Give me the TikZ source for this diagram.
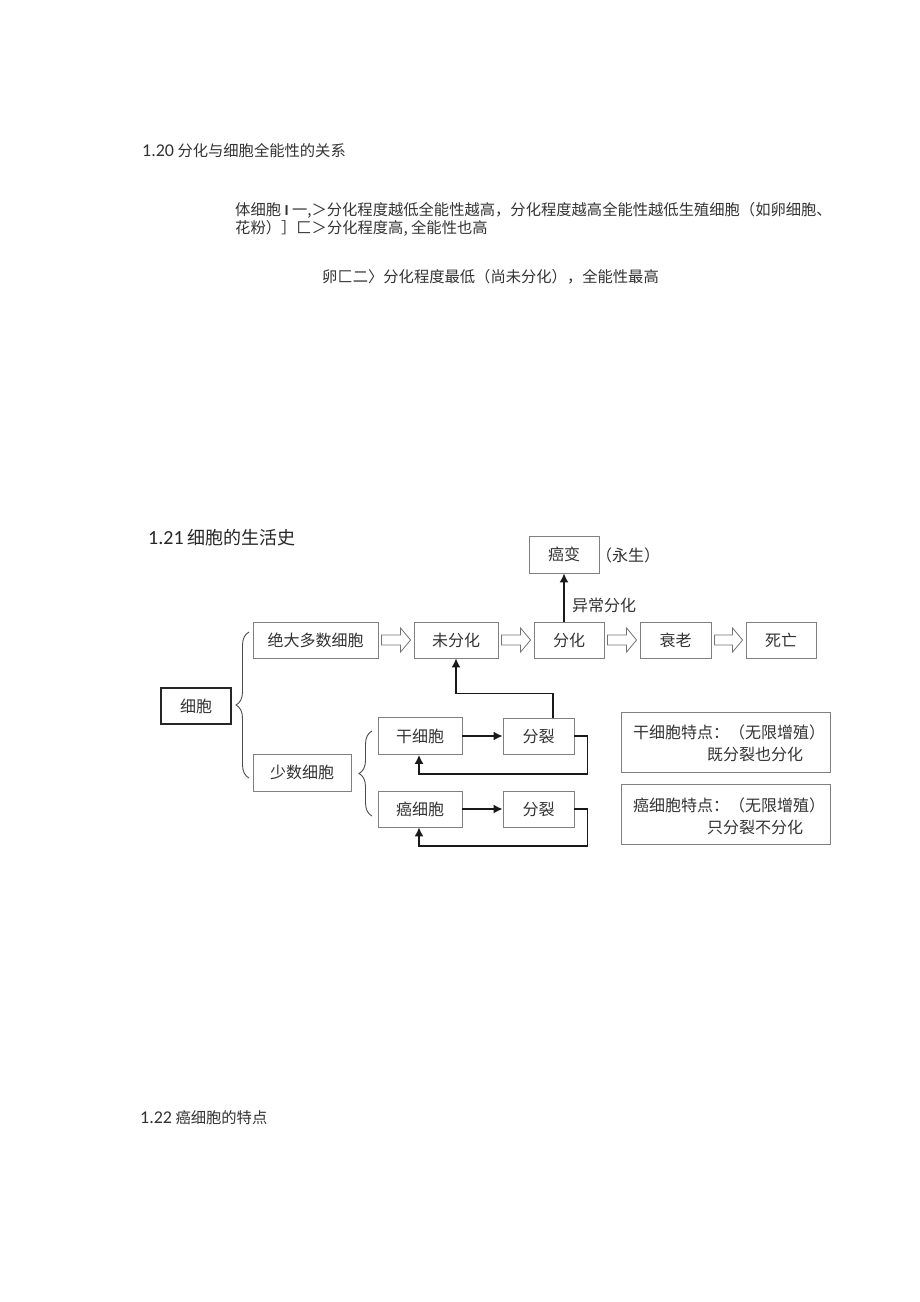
\documentclass[tikz,border=0pt]{standalone}
\usepackage{fontspec}
\setmainfont{Carlito}
\newfontfamily\cjk{Noto Sans CJK SC}
\usetikzlibrary{calc,decorations.pathreplacing,arrows.meta}
\newcommand\fsz[1]{\fontsize{#1}{#1}\selectfont}
\newcommand\hollow[2]{\draw[hol] let \p1=(#1.east), \p2=(#2.west) in
  (\x1+3pt,\y1+5pt) -- (\x2-13pt,\y1+5pt) -- (\x2-13pt,\y1+12pt) -- (\x2-3pt,\y1)
  -- (\x2-13pt,\y1-12pt) -- (\x2-13pt,\y1-5pt) -- (\x1+3pt,\y1-5pt) -- cycle;}
\begin{document}
\begin{tikzpicture}[x=1pt,y=-1pt,
 txt/.style={inner sep=0pt,anchor=west,text=black!80,font=\fsz{15.3}\cjk},
 dtxt/.style={inner sep=0pt,anchor=west,text=black!80,font=\fsz{16}\cjk},
 box/.style={draw=black!50,line width=0.9pt,minimum height=36pt,inner sep=0pt,text=black!80,font=\fsz{16}\cjk},
 arr/.style={draw=black!90,line width=1.4pt,-{Latex[length=9pt,width=9pt]}},
 hol/.style={draw=black!55,line width=0.8pt,fill=white},
 brc/.style={draw=black!70,line width=0.9pt,decorate,decoration={brace,amplitude=13pt}},
]
\useasboundingbox (0,0) rectangle (920,1302);
\fill[white] (0,0) rectangle (920,1302);

% section 1.20
\node[txt] (h120) at (142,151) {{\rmfamily\fsz{18}1.20} 分化与细胞全能性的关系};
\node[txt] (l1) at (235,210) {体细胞 {\rmfamily\bfseries I} 一,＞分化程度越低全能性越高，分化程度越高全能性越低生殖细胞（如卵细胞、};
\node[txt] (l2) at (235,228) {花粉）］匚＞分化程度高, 全能性也高};
\node[txt] (l3) at (322,277) {卵匚二〉分化程度最低（尚未分化），全能性最高};

% section 1.21
\node[txt,font=\fsz{18}\cjk,text=black!85] (h121) at (148,538) {{\rmfamily\fsz{20}1.21} 细胞的生活史};

\node[box,minimum width=125pt] (most) at (315.5,640) {绝大多数细胞};
\node[box,minimum width=84pt] (undiff) at (456,640) {未分化};
\node[box,minimum width=70pt] (diff) at (569,640) {分化};
\node[box,minimum width=71pt] (aging) at (675.5,640) {衰老};
\node[box,minimum width=70pt] (death) at (781,640) {死亡};
\node[box,minimum width=70pt,minimum height=37pt] (cancer) at (564,554.5) {癌变};
\node[dtxt] (immortal) at (596,555) {（永生）};
\node[dtxt] (abn) at (572,605) {异常分化};

\node[box,minimum width=70pt,draw=black!85,line width=1.4pt] (cell) at (196,706) {细胞};
\node[box,minimum width=98pt,minimum height=37pt] (few) at (302,772.5) {少数细胞};
\node[box,minimum width=84pt,minimum height=37pt] (stem) at (420,736) {干细胞};
\node[box,minimum width=71pt] (div1) at (538.5,736) {分裂};
\node[box,minimum width=84pt] (cc) at (420,809) {癌细胞};
\node[box,minimum width=71pt] (div2) at (538.5,809) {分裂};

\node[box,minimum width=209pt,minimum height=60pt] (n1) at (725.5,742) {};
\node[dtxt] (n1a) at (633,732) {干细胞特点：（无限增殖）};
\node[dtxt] (n1b) at (707,754) {既分裂也分化};
\node[box,minimum width=209pt,minimum height=60pt] (n2) at (725.5,814) {};
\node[dtxt] (n2a) at (633,805) {癌细胞特点：（无限增殖）};
\node[dtxt] (n2b) at (707,827) {只分裂不分化};

% hollow arrows
\hollow{most}{undiff}
\hollow{undiff}{diff}
\hollow{diff}{aging}
\hollow{aging}{death}

% connectors
\draw[arr] (cancer.south |- diff.north) -- (cancer.south);
\draw[arr] (stem.east) -- (div1.west);
\draw[arr] (div1.east) -| ++(13,38) -| ([xshift=-1pt]stem.south);
\draw[arr] ([xshift=14.5pt]div1.north) -- ++(0,-24) -| (undiff.south);
\draw[arr] (cc.east) -- (div2.west);
\draw[arr] (div2.east) -| ++(13,37) -| ([xshift=-1pt]cc.south);

% braces
\coordinate (b1a) at (249,778);
\coordinate (b1b) at (249,632);
\coordinate (b2a) at (372,816);
\coordinate (b2b) at (372,731);
\draw[brc] (b1a) -- (b1b);
\draw[brc] (b2a) -- (b2b);

% section 1.22
\node[txt] (h122) at (140,1118) {{\rmfamily\fsz{18}1.22} 癌细胞的特点};
\end{tikzpicture}
\end{document}
